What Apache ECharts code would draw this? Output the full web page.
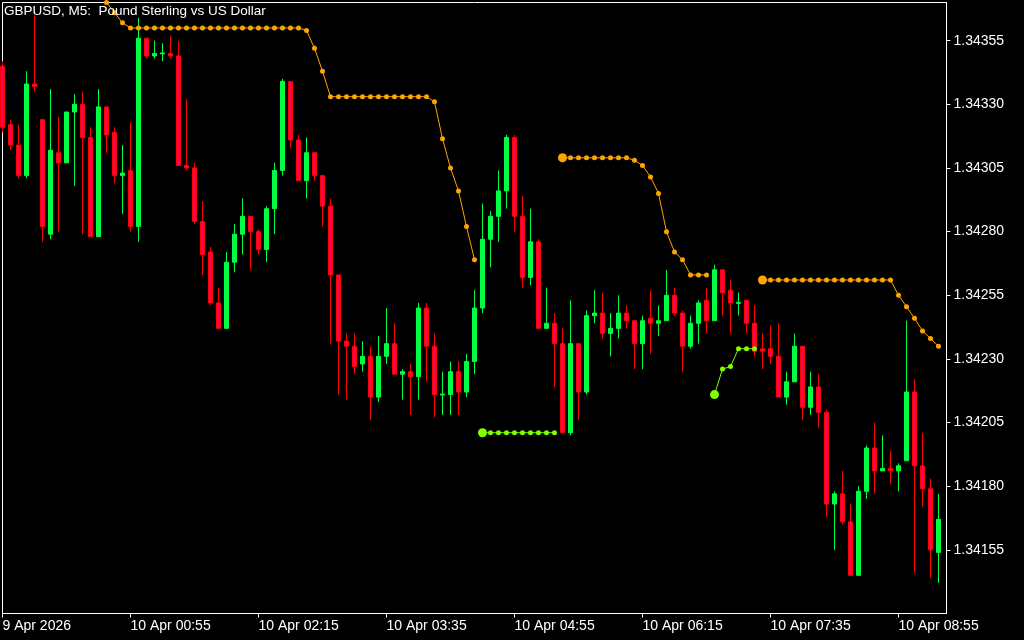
<!DOCTYPE html>
<html><head><meta charset="utf-8">
<script src="https://cdn.jsdelivr.net/npm/echarts@6/dist/echarts.min.js"></script>
<style>html,body{margin:0;padding:0;background:#000}#c{width:1024px;height:640px}</style>
</head><body><div id="c"></div><script>
const _ = null;
const titleText = "GBPUSD, M5:  Pound Sterling vs US Dollar";
const startTime = { day: 9, hour: 23, minute: 35 };
const barCount = 118;
const xTickLabels = ["9 Apr 2026","10 Apr 00:55","10 Apr 02:15","10 Apr 03:35","10 Apr 04:55","10 Apr 06:15","10 Apr 07:35","10 Apr 08:55"];
const yTickValues = [1.34155,1.34180,1.34205,1.34230,1.34255,1.34280,1.34305,1.34330,1.34355];

const opens = [1.34345,1.34322,1.34314,1.34302,1.34338,1.34324,1.34279,1.34311,1.34307,1.34327,
1.34330,1.34317,1.34278,1.34329,1.34319,1.34302,1.34304,1.34282,1.34356,1.34349,
1.343498,1.34350,1.34349,1.34306,1.34305,1.34284,1.34272,1.34252,1.34242,1.34268,
1.34279,1.34286,1.34280,1.34273,1.34289,1.34304,1.34339,1.34316,1.34300,1.34311,
1.34302,1.34290,1.34263,1.34237,1.34235,1.34228,1.34231,1.34215,1.34231,1.34236,
1.34224,1.34225,1.34223,1.34250,1.34235,1.342158,1.34216,1.34225,1.34217,1.34229,
1.34250,1.34277,1.34286,1.34296,1.34317,1.34286,1.34262,1.34276,1.34242,1.34244,
1.34236,1.34201,1.34236,1.34217,1.34247,1.34248,1.34240,1.34242,1.34248,1.34245,
1.34236,1.34246,1.34244,1.34245,1.34255,1.34248,1.34235,1.34244,1.34253,1.34245,
1.34265,1.34257,1.342518,1.34253,1.34244,1.34234,1.34234,1.34231,1.34215,1.34221,
1.34235,1.34211,1.34219,1.34209,1.34173,1.34177,1.34166,1.34145,1.34178,1.34195,
1.34186,1.34187,1.34186,1.34190,1.34217,1.34188,1.34179,1.34154];
const closes = [1.34321,1.34314,1.34302,1.34338,1.34337,1.34282,1.34312,1.34307,1.34327,1.34330,
1.34317,1.34278,1.34329,1.34318,1.34302,1.34303,1.34282,1.34356,1.34349,1.34350,
1.343502,1.34349,1.34306,1.34305,1.34284,1.34271,1.34252,1.34242,1.34268,1.34279,
1.34286,1.34280,1.34273,1.34289,1.34304,1.34339,1.34316,1.34300,1.34311,1.34302,
1.34290,1.34263,1.34237,1.34235,1.34227,1.34231,1.34215,1.34231,1.34236,1.34224,
1.34225,1.34223,1.34250,1.34235,1.34216,1.342162,1.34225,1.34217,1.34229,1.34250,
1.34277,1.34286,1.34296,1.34317,1.34286,1.34262,1.34276,1.34242,1.34244,1.34236,
1.34201,1.34236,1.34217,1.34247,1.34248,1.34240,1.34242,1.34248,1.34245,1.34236,
1.34245,1.34244,1.34245,1.34255,1.34248,1.34235,1.34244,1.34252,1.34245,1.34265,
1.34256,1.34252,1.342522,1.34244,1.34233,1.34233,1.34231,1.34215,1.34221,1.34235,
1.34211,1.34219,1.34209,1.34173,1.34177,1.34166,1.34145,1.34178,1.34195,1.34186,
1.34187,1.34186,1.34188,1.34217,1.34188,1.34179,1.34155,1.34167];
const lows = [1.34319,1.34312,1.34301,1.34301,1.34335,1.34276,1.34277,1.34280,1.34307,1.34298,
1.34279,1.34278,1.34278,1.34311,1.34299,1.34287,1.34280,1.34276,1.34348,1.34348,
1.34347,1.34348,1.34306,1.34304,1.34283,1.34263,1.34251,1.34242,1.34242,1.34264,
1.34271,1.34265,1.34271,1.34268,1.34279,1.34302,1.34313,1.34300,1.34293,1.34300,
1.34282,1.34236,1.34216,1.34214,1.34224,1.34225,1.34206,1.34213,1.34228,1.34224,
1.34214,1.34208,1.34214,1.34221,1.34207,1.34208,1.34208,1.34208,1.34215,1.34224,
1.34248,1.34266,1.34276,1.34289,1.34280,1.34258,1.34259,1.34242,1.34242,1.34219,
1.34201,1.34200,1.34206,1.34216,1.34244,1.34238,1.34231,1.34238,1.34242,1.34226,
1.34226,1.34232,1.34239,1.34245,1.34247,1.34225,1.34234,1.34236,1.34240,1.34245,
1.34247,1.34240,1.34247,1.34240,1.34231,1.34226,1.34228,1.34215,1.34212,1.34221,
1.34206,1.34208,1.34203,1.34168,1.34155,1.34165,1.34145,1.34145,1.34175,1.34177,
1.34186,1.34181,1.34178,1.34190,1.34146,1.34172,1.34144,1.34142];
const highs = [1.34347,1.34324,1.34322,1.34343,1.34365,1.34324,1.34336,1.34325,1.34327,1.34334,
1.34335,1.34321,1.34336,1.34329,1.34321,1.34314,1.34323,1.34364,1.34356,1.34355,
1.34354,1.34357,1.34355,1.34332,1.34307,1.34292,1.34274,1.34258,1.34272,1.34283,
1.34293,1.34286,1.34281,1.34290,1.34307,1.34340,1.34339,1.34318,1.34317,1.34311,
1.34302,1.34293,1.34263,1.34240,1.34240,1.34237,1.34235,1.34239,1.34250,1.34244,
1.34226,1.34228,1.34252,1.34252,1.34240,1.34225,1.34229,1.34229,1.34232,1.34257,
1.34291,1.34288,1.34304,1.34318,1.34318,1.34294,1.34289,1.34277,1.34258,1.34248,
1.34242,1.34253,1.34236,1.34249,1.34257,1.34256,1.34248,1.34255,1.34251,1.34245,
1.34247,1.34257,1.34251,1.34265,1.34258,1.34249,1.34247,1.34253,1.34258,1.34267,
1.34265,1.34261,1.34256,1.34253,1.34251,1.34240,1.34243,1.34244,1.34225,1.34240,
1.34235,1.34225,1.34224,1.34210,1.34178,1.34186,1.34173,1.34180,1.34196,1.34205,
1.34200,1.34194,1.34189,1.34245,1.34222,1.34201,1.34183,1.34177];

const stopDown = [_,_,_,_,_,_,_,_,_,_,
_,_,1.34374,1.34370,1.34366,1.34362,1.34360,1.34360,1.34360,1.34360,
1.34360,1.34360,1.34360,1.34360,1.34360,1.34360,1.34360,1.34360,1.34360,1.34360,
1.34360,1.34360,1.34360,1.34360,1.34360,1.34360,1.34360,1.34360,1.34359,1.34352,
1.34343,1.34333,1.34333,1.34333,1.34333,1.34333,1.34333,1.34333,1.34333,1.34333,
1.34333,1.34333,1.34333,1.34333,1.34331,1.343165,1.34305,1.34296,1.34282,1.34269,
_,_,_,_,_,_,_,_,_,_,
1.34309,1.34309,1.34309,1.34309,1.34309,1.34309,1.34309,1.34309,1.34309,1.34308,
1.34306,1.343015,1.34295,1.34280,1.34272,1.34269,1.34263,1.34263,1.34263,_,
_,_,_,_,_,1.34261,1.34261,1.34261,1.34261,1.34261,
1.34261,1.34261,1.34261,1.34261,1.34261,1.34261,1.34261,1.34261,1.34261,1.34261,
1.34261,1.34261,1.34255,1.342505,1.34246,1.34241,1.34238,1.34235];
const stopUp = [_,_,_,_,_,_,_,_,_,_,
_,_,_,_,_,_,_,_,_,_,
_,_,_,_,_,_,_,_,_,_,
_,_,_,_,_,_,_,_,_,_,
_,_,_,_,_,_,_,_,_,_,
_,_,_,_,_,_,_,_,_,_,
1.34201,1.34201,1.34201,1.34201,1.34201,1.34201,1.34201,1.34201,1.34201,1.34201,
_,_,_,_,_,_,_,_,_,_,
_,_,_,_,_,_,_,_,_,1.34216,
1.34226,1.34227,1.34234,1.34234,1.34234,_,_,_,_,_,
_,_,_,_,_,_,_,_,_,_,
_,_,_,_,_,_,_,_];

// time categories (5-minute bars), one extra slot at the right edge
const categories = [];
for (let i = 0; i <= barCount; i++) {
  let m = startTime.hour * 60 + startTime.minute + i * 5;
  const d = startTime.day + Math.floor(m / 1440);
  m = m % 1440;
  categories.push(d + ' Apr ' + String(Math.floor(m / 60)).padStart(2, '0') + ':' + String(m % 60).padStart(2, '0'));
}
const candleData = opens.map((o, i) => [o, closes[i], lows[i], highs[i]]);
const tickEvery = 16;
const FONT = 'Liberation Sans';
const segStartSize = (arr) => (v, p) => (p.dataIndex > 0 && arr[p.dataIndex - 1] == null) ? 9 : 5;

const chart = echarts.init(document.getElementById('c'), null, { renderer: 'canvas' });
chart.setOption({
  animation: false,
  backgroundColor: '#000000',
  title: {
    text: titleText, left: 4, top: 4, padding: 0,
    textStyle: { color: '#ffffff', fontFamily: FONT, fontSize: 13.5, fontWeight: 'normal' }
  },
  grid: {
    left: 2.5, top: 2.5, width: 944, height: 611, containLabel: false, outerBoundsMode: 'none',
    show: true, borderColor: '#ffffff', borderWidth: 1, backgroundColor: 'transparent'
  },
  xAxis: {
    type: 'category', data: categories, boundaryGap: false,
    axisLine: { show: true, lineStyle: { color: '#ffffff', width: 1 } },
    axisTick: { show: true, length: 4, lineStyle: { color: '#ffffff' }, interval: (i) => i % tickEvery === 0 },
    axisLabel: {
      color: '#ffffff', fontFamily: FONT, fontSize: 14, align: 'left', margin: 6,
      interval: (i) => i % tickEvery === 0,
      formatter: (v, i) => xTickLabels[i / tickEvery] || ''
    },
    splitLine: { show: false }
  },
  yAxis: {
    type: 'value', position: 'right', min: 1.34130, max: 1.34370, scale: true,
    axisLine: { show: true, lineStyle: { color: '#ffffff', width: 1 } },
    axisTick: { show: true, length: 4, lineStyle: { color: '#ffffff' }, customValues: yTickValues },
    axisLabel: {
      color: '#ffffff', fontFamily: FONT, fontSize: 14, margin: 7,
      customValues: yTickValues, formatter: (v) => v.toFixed(5)
    },
    splitLine: { show: false }
  },
  series: [
    {
      type: 'candlestick', data: candleData, barWidth: 4, clip: true,
      itemStyle: {
        color: '#00ff44', color0: '#ff0055',
        borderColor: '#00ff44', borderColor0: '#ff0000', borderWidth: 1
      }
    },
    {
      type: 'line', data: stopDown, connectNulls: false, clip: true,
      symbol: 'circle', showSymbol: true, showAllSymbol: true, symbolSize: segStartSize(stopDown),
      lineStyle: { color: '#ffa500', width: 1 },
      itemStyle: { color: '#ffa500', borderWidth: 0 }, z: 5
    },
    {
      type: 'line', data: stopUp, connectNulls: false, clip: true,
      symbol: 'circle', showSymbol: true, showAllSymbol: true, symbolSize: segStartSize(stopUp),
      lineStyle: { color: '#7fff00', width: 1 },
      itemStyle: { color: '#7fff00', borderWidth: 0 }, z: 5
    }
  ]
});
</script></body></html>
